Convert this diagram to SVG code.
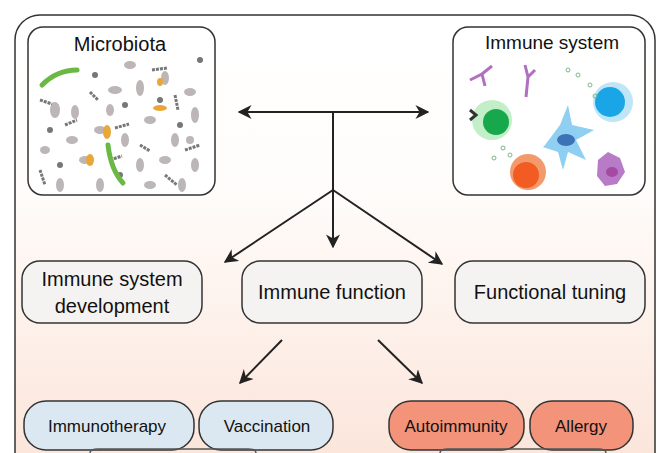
<svg xmlns="http://www.w3.org/2000/svg" width="670" height="453" viewBox="0 0 670 453">
<defs>
<linearGradient id="bg" x1="0" y1="0" x2="0" y2="1"><stop offset="0" stop-color="#ffffff"/><stop offset="0.35" stop-color="#fffdfb"/><stop offset="1" stop-color="#fbe3d8"/></linearGradient>
<marker id="ah" viewBox="0 0 10 10" refX="9" refY="5" markerWidth="7" markerHeight="7" orient="auto-start-reverse"><path d="M0,0 L10,5 L0,10 L3,5 Z" fill="#222"/></marker>
<style>
.box{fill:#f5f3f1;stroke:#333;stroke-width:1.5}
.pan{fill:#fff;stroke:#333;stroke-width:1.5}
.blue{fill:#dce8f1;stroke:#333;stroke-width:1.5}
.red{fill:#f3937a;stroke:#333;stroke-width:1.5}
.t{font-family:"Liberation Sans",Arial,sans-serif;fill:#111;text-anchor:middle}
.c{stroke:#222;stroke-width:2;fill:none}
.g{fill:#bdb6b6}
.d{fill:#777}
</style>
</defs>
<rect width="670" height="453" fill="#fff"/>
<rect x="15" y="15" width="640" height="470" rx="25" fill="url(#bg)" stroke="#333" stroke-width="1.5"/>
<g id="microbiota">
<rect class="pan" x="28" y="27" width="187" height="168" rx="15"/>
<text class="t" x="120" y="51" font-size="20">Microbiota</text>
<g class="g">
<ellipse cx="55" cy="110" rx="5" ry="8"/><ellipse cx="72" cy="140" rx="6" ry="4"/><ellipse cx="115" cy="90" rx="7" ry="4"/><ellipse cx="140" cy="88" rx="4" ry="8"/><ellipse cx="165" cy="78" rx="4" ry="7"/><ellipse cx="190" cy="92" rx="6" ry="4"/><ellipse cx="75" cy="112" rx="4" ry="7"/><ellipse cx="100" cy="130" rx="6" ry="4"/><ellipse cx="125" cy="140" rx="4" ry="7"/><ellipse cx="150" cy="120" rx="6" ry="4"/><ellipse cx="175" cy="140" rx="4" ry="7"/><ellipse cx="195" cy="115" rx="4" ry="8"/><ellipse cx="85" cy="160" rx="6" ry="4"/><ellipse cx="140" cy="165" rx="4" ry="7"/><ellipse cx="165" cy="160" rx="6" ry="4"/><ellipse cx="195" cy="165" rx="4" ry="7"/><ellipse cx="60" cy="185" rx="4" ry="7"/><ellipse cx="100" cy="185" rx="4" ry="7"/><ellipse cx="150" cy="185" rx="6" ry="4"/><ellipse cx="182" cy="185" rx="4" ry="7"/><ellipse cx="45" cy="150" rx="5" ry="4"/><ellipse cx="110" cy="110" rx="4" ry="6"/><ellipse cx="190" cy="140" rx="4" ry="4"/><ellipse cx="130" cy="65" rx="6" ry="4"/>
</g>
<g class="d"><circle cx="50" cy="130" r="3"/><circle cx="125" cy="105" r="3"/><circle cx="95" cy="75" r="3"/><circle cx="160" cy="100" r="3"/><circle cx="180" cy="125" r="3"/><circle cx="120" cy="175" r="3"/><circle cx="60" cy="165" r="3"/><circle cx="200" cy="60" r="3"/></g>
<g stroke="#777" stroke-width="3" fill="none" stroke-dasharray="3 1"><path d="M40 100 l12 4"/><path d="M65 125 l12 -5"/><path d="M90 92 l8 8"/><path d="M115 128 l14 -4"/><path d="M140 145 l10 6"/><path d="M175 95 l3 15"/><path d="M152 70 l15 -2"/><path d="M40 170 l5 15"/><path d="M110 160 l12 -4"/><path d="M185 150 l15 -5"/><path d="M165 175 l12 10"/></g>
<g stroke="#6bb844" stroke-width="5" fill="none" stroke-linecap="round"><path d="M42 85 q15 -15 35 -15"/><path d="M108 145 q3 25 15 38"/></g>
<g fill="#e9a73a"><ellipse cx="107" cy="132" rx="4" ry="7"/><ellipse cx="90" cy="160" rx="4" ry="6"/><ellipse cx="160" cy="108" rx="7" ry="3"/><ellipse cx="160" cy="82" rx="3" ry="4"/></g>
</g>
<g id="immune-system">
<rect class="pan" x="453" y="27" width="192" height="168" rx="15"/>
<text class="t" x="552" y="49" font-size="19">Immune system</text>
<g stroke="#b070c0" stroke-width="3" fill="none"><path d="M470 80 l12 -6 l10 -8 M482 74 l3 12"/><path d="M525 65 l3 12 l-2 20 M528 77 l7 -7"/></g>
<circle cx="613" cy="102" r="20" fill="#bfe6f7"/><circle cx="610" cy="102" r="15" fill="#1aa5e6"/>
<circle cx="492" cy="120" r="20" fill="#c3efc8"/><circle cx="496" cy="122" r="13" fill="#16a84a"/>
<path d="M470 110 l6 5 l-6 5" stroke="#333" stroke-width="3" fill="none"/>
<path d="M545 145 l15 -20 l8 -20 l4 20 l22 5 l-18 10 l10 20 l-18 -8 l-5 18 l-5 -18 l-15 -5 Z" fill="#8ecff2"/><ellipse cx="566" cy="140" rx="9" ry="6" fill="#3d72b6"/>
<circle cx="528" cy="172" r="18" fill="#f39a6c"/><circle cx="526" cy="175" r="13" fill="#f25b22"/>
<path d="M598 160 l10 -8 l12 6 l5 14 l-8 12 l-12 2 l-8 -10 Z" fill="#b77bc8"/><ellipse cx="612" cy="172" rx="6" ry="5" fill="#a54aa4"/>
<g fill="none" stroke="#7bb88a" stroke-width="1"><circle cx="568" cy="70" r="2"/><circle cx="578" cy="75" r="2"/><circle cx="590" cy="85" r="2"/><circle cx="595" cy="96" r="2"/><circle cx="503" cy="148" r="2"/><circle cx="494" cy="158" r="2"/><circle cx="510" cy="155" r="2"/></g>
</g>
<g id="connectors">
<line class="c" x1="239" y1="112" x2="428" y2="112" marker-start="url(#ah)" marker-end="url(#ah)"/>
<line class="c" x1="333" y1="112" x2="333" y2="247" marker-end="url(#ah)"/>
<line class="c" x1="333" y1="190" x2="225" y2="262" marker-end="url(#ah)"/>
<line class="c" x1="333" y1="190" x2="442" y2="264" marker-end="url(#ah)"/>
<line class="c" x1="282" y1="340" x2="240" y2="383" marker-end="url(#ah)"/>
<line class="c" x1="378" y1="340" x2="422" y2="383" marker-end="url(#ah)"/>
</g>
<g id="dev"><rect class="box" x="22" y="261" width="180" height="62" rx="18"/><text class="t" x="112" y="286" font-size="20">Immune system</text><text class="t" x="112" y="313" font-size="20">development</text></g>
<g id="func"><rect class="box" x="242" y="261" width="180" height="62" rx="18"/><text class="t" x="332" y="299" font-size="20">Immune function</text></g>
<g id="tune"><rect class="box" x="455" y="261" width="190" height="62" rx="18"/><text class="t" x="550" y="299" font-size="20">Functional tuning</text></g>
<g id="immunotherapy"><rect class="blue" x="24" y="401" width="170" height="49" rx="22"/><text class="t" x="107" y="432" font-size="17">Immunotherapy</text></g>
<g id="vaccination"><rect class="blue" x="199" y="401" width="134" height="49" rx="22"/><text class="t" x="267" y="432" font-size="17">Vaccination</text></g>
<g id="autoimmunity"><rect class="red" x="389" y="401" width="135" height="49" rx="22"/><text class="t" x="456" y="432" font-size="17">Autoimmunity</text></g>
<g id="allergy"><rect class="red" x="530" y="401" width="103" height="49" rx="22"/><text class="t" x="581" y="432" font-size="17">Allergy</text></g>
<g stroke="#555" stroke-width="1.5" fill="none"><path d="M90 453 q0 -4 8 -4 h150 q8 0 8 4"/><path d="M440 453 q0 -4 8 -4 h150 q8 0 8 4"/></g>
</svg>
